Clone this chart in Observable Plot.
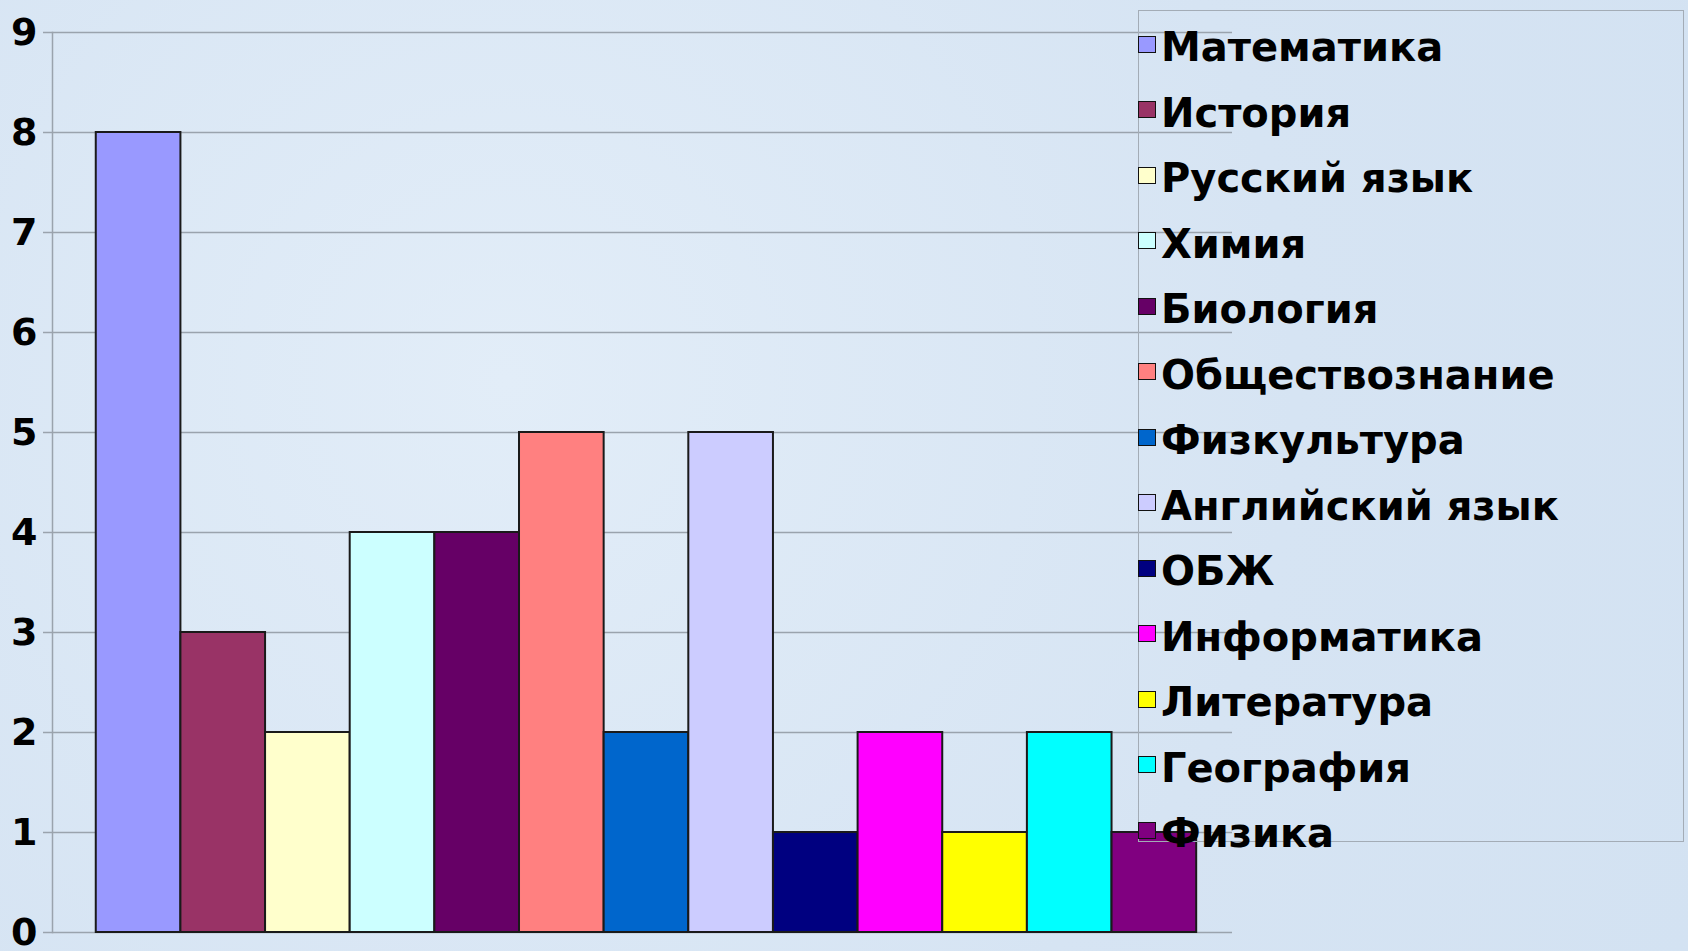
<!DOCTYPE html>
<html>
<head>
<meta charset="utf-8">
<script src="https://cdn.jsdelivr.net/npm/d3@7"></script>
<script src="https://cdn.jsdelivr.net/npm/@observablehq/plot@0.6"></script>
<style>
  html, body { margin: 0; padding: 0; background: #d8e6f4; }
  #wrap { position: relative; width: 1688px; height: 951px; overflow: hidden;
    background: radial-gradient(circle at 30% 40%, #e2edf8 0%, #d6e4f3 60%, #d3e2f2 100%); }
  #legend { position: absolute; left: 1138px; top: 10px; width: 546px; height: 832px;
    border: 1.5px solid #a3acb6; box-sizing: border-box; }
  .row { position: absolute; left: -1px; height: 44px; display: flex; align-items: center;
    font-family: "DejaVu Sans", sans-serif; font-weight: bold; font-size: 40px; color: #000; white-space: nowrap; }
  .sw { width: 16px; height: 15px; border: 1.5px solid #111; margin-right: 5px; position: relative; top: -3px; flex: none; }
</style>
</head>
<body>
<div id="wrap"><div id="chart"></div><div id="legend"></div></div>
<script>
const subjects = ["Математика", "История", "Русский язык", "Химия", "Биология", "Обществознание",
  "Физкультура", "Английский язык", "ОБЖ", "Информатика", "Литература", "География", "Физика"];
const values = [8, 3, 2, 4, 4, 5, 2, 5, 1, 2, 1, 2, 1];
const colors = ["#9999FF", "#993366", "#FFFFCC", "#CCFFFF", "#660066", "#FF8080",
  "#0066CC", "#CCCCFF", "#000080", "#FF00FF", "#FFFF00", "#00FFFF", "#800080"];
const yTicks = [0, 1, 2, 3, 4, 5, 6, 7, 8, 9];

const data = subjects.map((s, i) => ({subject: s, value: values[i]}));

const chart = Plot.plot({
  width: 1688,
  height: 951,
  marginLeft: 52,
  marginRight: 456,
  marginTop: 32,
  marginBottom: 19,
  style: {background: "transparent", fontFamily: "DejaVu Sans, sans-serif", fontWeight: "bold", fontSize: "37px", color: "#000", overflow: "visible"},
  x: {domain: subjects, paddingInner: 0, paddingOuter: 0.47, align: 0.55, round: false, axis: null},
  y: {domain: [0, 9], ticks: yTicks, label: null},
  color: {domain: subjects, range: colors},
  marks: [
    Plot.gridY(yTicks, {stroke: "#9aa3ad", strokeOpacity: 1, strokeWidth: 1.5}),
    Plot.frame({anchor: "left", stroke: "#9aa3ad", strokeWidth: 1.5}),
    Plot.axisY(yTicks, {tickSize: 9, tickPadding: 6, stroke: "#9aa3ad", strokeWidth: 1.5, fill: "#000",
      fontWeight: "bold", fontSize: 38, tickFormat: d => String(d), label: null}),
    Plot.barY(data, {x: "subject", y: "value", fill: "subject", stroke: "#1a1a1a", strokeWidth: 2})
  ]
});
document.getElementById("chart").appendChild(chart);

const legend = document.getElementById("legend");
subjects.forEach((s, i) => {
  const row = document.createElement("div");
  row.className = "row";
  row.style.top = (36 - 22 + 65.5 * i) + "px";
  const sw = document.createElement("div");
  sw.className = "sw";
  sw.style.background = colors[i];
  const t = document.createElement("span");
  t.textContent = s;
  row.appendChild(sw);
  row.appendChild(t);
  legend.appendChild(row);
});
</script>
</body>
</html>
